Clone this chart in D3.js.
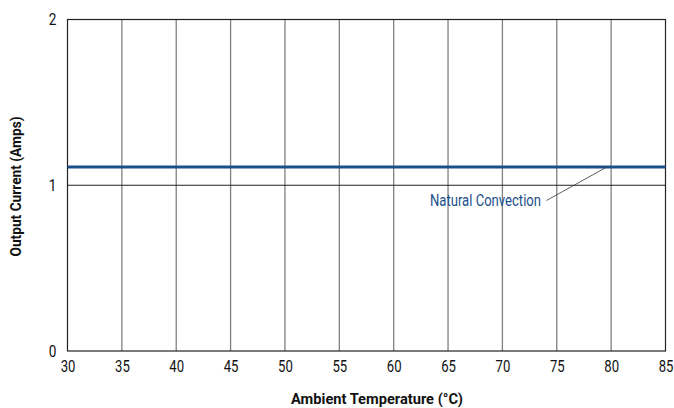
<!DOCTYPE html>
<html><head><meta charset="utf-8">
<script src="https://cdn.jsdelivr.net/npm/d3@7"></script>
<style>
body{margin:0;background:#fff;}
text{font-family:"Roboto","Liberation Sans",sans-serif;}
</style></head>
<body><svg id="c" width="674" height="408"></svg>
<script>
const xTicks = [30,35,40,45,50,55,60,65,70,75,80,85];
const yTicks = [0,1,2];
const seriesName = "Natural Convection";
const seriesX = [30, 85];
const seriesY = [1.11, 1.11];

const svg = d3.select("#c");
const m = {l:67.5, r:665.5, t:19.5, b:351};
const x = d3.scaleLinear().domain([30,85]).range([m.l,m.r]);
const y = d3.scaleLinear().domain([0,2]).range([m.b,m.t]);

function condense(sel, f){
  sel.each(function(){
    const w = this.getComputedTextLength();
    d3.select(this).attr("textLength", w*f).attr("lengthAdjust","spacingAndGlyphs");
  });
}

// vertical grid
svg.append("g").selectAll("line").data(xTicks.slice(1,-1)).join("line")
  .attr("x1",d=>x(d)).attr("x2",d=>x(d)).attr("y1",m.t).attr("y2",m.b)
  .attr("stroke","#808080").attr("stroke-width",1.3);
// horizontal grid
svg.append("g").selectAll("line").data(yTicks.slice(1,-1)).join("line")
  .attr("x1",m.l).attr("x2",m.r).attr("y1",d=>y(d)).attr("y2",d=>y(d))
  .attr("stroke","#222").attr("stroke-width",1);
// frame
svg.append("rect").attr("x",m.l).attr("y",m.t).attr("width",m.r-m.l).attr("height",m.b-m.t)
  .attr("fill","none").attr("stroke","#222").attr("stroke-width",1.2);
// axes labels
const xAxis = d3.axisBottom(x).tickValues(xTicks).tickSize(0).tickPadding(10);
const gx = svg.append("g").attr("transform",`translate(0,${m.b})`).call(xAxis);
gx.select(".domain").remove();
gx.selectAll("text").attr("font-size",16).attr("fill","#111").style("font-family","Roboto,sans-serif");
condense(gx.selectAll("text"),0.82);
const yAxis = d3.axisLeft(y).tickValues(yTicks).tickFormat(d3.format("d")).tickSize(0).tickPadding(11);
const gy = svg.append("g").attr("transform",`translate(${m.l},0)`).call(yAxis);
gy.select(".domain").remove();
gy.selectAll("text").attr("font-size",16).attr("fill","#111").style("font-family","Roboto,sans-serif");
condense(gy.selectAll("text"),0.85);

// series line
svg.append("path").datum(seriesX.map((d,i)=>[d,seriesY[i]]))
  .attr("d",d3.line().x(d=>x(d[0])).y(d=>y(d[1])))
  .attr("stroke","#1b4f8a").attr("stroke-width",3).attr("fill","none");

// leader line and label
svg.append("line").attr("x1",x(79.6)).attr("y1",y(1.11))
  .attr("x2",546.5).attr("y2",200.5).attr("stroke","#333").attr("stroke-width",0.8);
svg.append("text").attr("x",430).attr("y",206)
  .attr("font-size",16.5).attr("fill","#1b4f8a")
  .attr("textLength",111).attr("lengthAdjust","spacingAndGlyphs").text(seriesName);

// titles
svg.append("text").attr("x",291).attr("y",404)
  .attr("font-size",15).attr("font-weight","bold").attr("fill","#111")
  .attr("textLength",172).attr("lengthAdjust","spacingAndGlyphs").text("Ambient Temperature (°C)");
svg.append("text").attr("transform",`translate(21,256.5) rotate(-90)`)
  .attr("font-size",15).attr("font-weight","bold").attr("fill","#111")
  .attr("textLength",140).attr("lengthAdjust","spacingAndGlyphs").text("Output Current (Amps)");
</script></body></html>
